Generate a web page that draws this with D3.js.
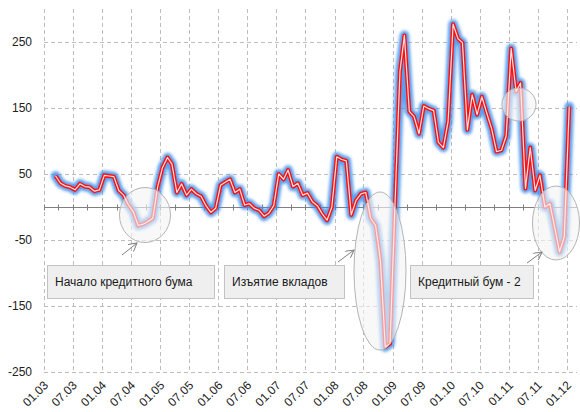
<!DOCTYPE html>
<html>
<head>
<meta charset="utf-8">
<script src="https://cdn.jsdelivr.net/npm/d3@7"></script>
<style>
  html, body { margin: 0; padding: 0; background: #fff; }
  svg { display: block; font-family: "Liberation Sans", Arial, sans-serif; }
</style>
</head>
<body>
<svg id="chart" width="580" height="412"></svg>
<script>
// Monthly values, March 2003 – January 2012
const firstMonth = [2003, 2]; // year, zero-based month
const values = [
  47, 36, 32, 30, 26, 35, 31, 30, 24, 26,
  48, 47, 46, 25, 18, 3, -7, -28, -26, -22,
  -17, 30, 60, 75, 65, 22, 35, 18, 27, 20,
  16, 2, -8, -2, 33, 38, 42, 22, 27, 3,
  5, -2, -5, -14, -9, 2, 50, 42, 56, 31,
  36, 18, 21, 8, 2, -10, -20, 0, 76, 72,
  70, -12, 10, 20, 22, -17, -28, -80, -212, -207,
  5, 205, 260, 145, 137, 111, 153, 149, 146, 98,
  90, 130, 277, 255, 249, 117, 170, 140, 167, 142,
  118, 84, 86, 108, 240, 175, 188, 28, 90, 25,
  48, 0, 5, -30, -68, -45, 152
];
const xTickLabels = ["01.03","07.03","01.04","07.04","01.05","07.05","01.06","07.06",
  "01.07","07.07","01.08","07.08","01.09","07.09","01.10","07.10","01.11","07.11","01.12"];
const yTicks = [-250, -150, -50, 50, 150, 250];

const noteLabels = ["Начало кредитного бума", "Изъятие вкладов", "Кредитный бум - 2"];

const data = values.map((v, i) => ({
  date: new Date(firstMonth[0], firstMonth[1] + i, 15),
  value: v
}));
const tickDates = xTickLabels.map(s => {
  const [mm, yy] = s.split(".");
  return new Date(2000 + +yy, +mm - 1, 1);
});

const svg = d3.select("#chart");
const plotLeft = 44, plotRight = 577, plotTop = 9, plotBottom = 372;

const x = d3.scaleTime()
  .domain([new Date(2003, 0, 1), new Date(2012, 0, 1)])
  .range([plotLeft, 567]);
const y = d3.scaleLinear().domain([-250, 300]).range([plotBottom, plotTop]);

const defs = svg.append("defs");
defs.append("filter").attr("id", "glow")
  .attr("x", "-10%").attr("y", "-10%").attr("width", "120%").attr("height", "120%")
  .append("feGaussianBlur").attr("stdDeviation", 1.8);
defs.append("marker").attr("id", "arrow")
  .attr("viewBox", "0 0 10 10").attr("refX", 9).attr("refY", 5)
  .attr("markerWidth", 9).attr("markerHeight", 9).attr("orient", "auto")
  .append("path").attr("d", "M0,0 L9,5 L0,10")
  .attr("fill", "none").attr("stroke", "#7f7f7f").attr("stroke-width", 1.1);

// Gridlines
const grid = svg.append("g").attr("stroke", "#bdbdbd").attr("stroke-dasharray", "4,3").attr("stroke-width", 1);
grid.selectAll("line.h").data(yTicks).join("line")
  .attr("x1", plotLeft).attr("x2", plotRight)
  .attr("y1", d => y(d) + 0.5).attr("y2", d => y(d) + 0.5);
grid.selectAll("line.v").data(tickDates).join("line")
  .attr("x1", d => Math.round(x(d)) + 0.5).attr("x2", d => Math.round(x(d)) + 0.5)
  .attr("y1", plotTop).attr("y2", plotBottom);

// Zero axis with quarterly ticks
const zeroY = Math.round(y(0)) + 0.5;
svg.append("line").attr("x1", plotLeft).attr("x2", plotRight)
  .attr("y1", zeroY).attr("y2", zeroY).attr("stroke", "#7f7f7f").attr("stroke-width", 1);
const quarterTicks = d3.timeMonth.every(3).range(new Date(2003, 0, 1), new Date(2012, 1, 1));
svg.append("g").selectAll("line").data(quarterTicks).join("line")
  .attr("x1", d => Math.round(x(d)) + 0.5).attr("x2", d => Math.round(x(d)) + 0.5)
  .attr("y1", zeroY - 3).attr("y2", zeroY + 3)
  .attr("stroke", "#7f7f7f");

// Axis labels
svg.append("g").selectAll("text").data(yTicks).join("text")
  .attr("x", 32).attr("y", d => y(d)).attr("dy", "0.35em")
  .attr("text-anchor", "end").attr("font-size", 12).attr("fill", "#222")
  .text(d => d);
svg.append("g").selectAll("text").data(tickDates).join("text")
  .attr("text-anchor", "end").attr("font-size", 12).attr("fill", "#222")
  .attr("transform", d => `translate(${x(d) + 5},386) rotate(-45)`)
  .text((d, i) => xTickLabels[i]);

// Series line: blue halo, red stroke, pale core
const line = d3.line().x(d => x(d.date)).y(d => y(d.value));
svg.append("path").datum(data).attr("d", line)
  .attr("fill", "none").attr("stroke", "#3f8ee8").attr("stroke-width", 9.5)
  .attr("stroke-linejoin", "round").attr("stroke-linecap", "round")
  .attr("opacity", 0.85).attr("filter", "url(#glow)");
svg.append("path").datum(data).attr("d", line)
  .attr("fill", "none").attr("stroke", "#ff1010").attr("stroke-width", 4)
  .attr("stroke-linejoin", "round");
svg.append("path").datum(data).attr("d", line)
  .attr("fill", "none").attr("stroke", "#ffe4e4").attr("stroke-width", 1.2)
  .attr("stroke-linejoin", "round");

// Highlight ellipses
const ellipses = [
  { cx: 145, cy: 215, rx: 25.5, ry: 27.5 },
  { cx: 380, cy: 271, rx: 26, ry: 79 },
  { cx: 519, cy: 104.5, rx: 17, ry: 16.5 },
  { cx: 556, cy: 223, rx: 23.5, ry: 37 }
];
svg.append("g").selectAll("ellipse").data(ellipses).join("ellipse")
  .attr("cx", d => d.cx).attr("cy", d => d.cy).attr("rx", d => d.rx).attr("ry", d => d.ry)
  .attr("fill", "rgba(244,244,244,0.62)").attr("stroke", "#b4b4b4").attr("stroke-width", 1);

// Arrows pointing from callouts to ellipses
const arrows = [
  { x1: 122, y1: 255, x2: 137, y2: 243 },
  { x1: 338, y1: 262, x2: 354, y2: 250 },
  { x1: 527, y1: 263, x2: 542, y2: 252 }
];
svg.append("g").selectAll("line").data(arrows).join("line")
  .attr("x1", d => d.x1).attr("y1", d => d.y1).attr("x2", d => d.x2).attr("y2", d => d.y2)
  .attr("stroke", "#7f7f7f").attr("stroke-width", 1).attr("marker-end", "url(#arrow)");

// Callout boxes
const boxes = [
  { x: 47, w: 167 },
  { x: 224, w: 120 },
  { x: 410, w: 123 }
];
const notes = svg.append("g").selectAll("g").data(boxes).join("g");
notes.append("rect")
  .attr("x", d => d.x + 0.5).attr("y", 265.5).attr("width", d => d.w).attr("height", 33)
  .attr("fill", "#efefef").attr("stroke", "#c3c3c3");
notes.append("text")
  .attr("x", d => d.x + 8).attr("y", 286)
  .attr("font-size", 12).attr("fill", "#1a1a1a")
  .text((d, i) => noteLabels[i]);
</script>
</body>
</html>
